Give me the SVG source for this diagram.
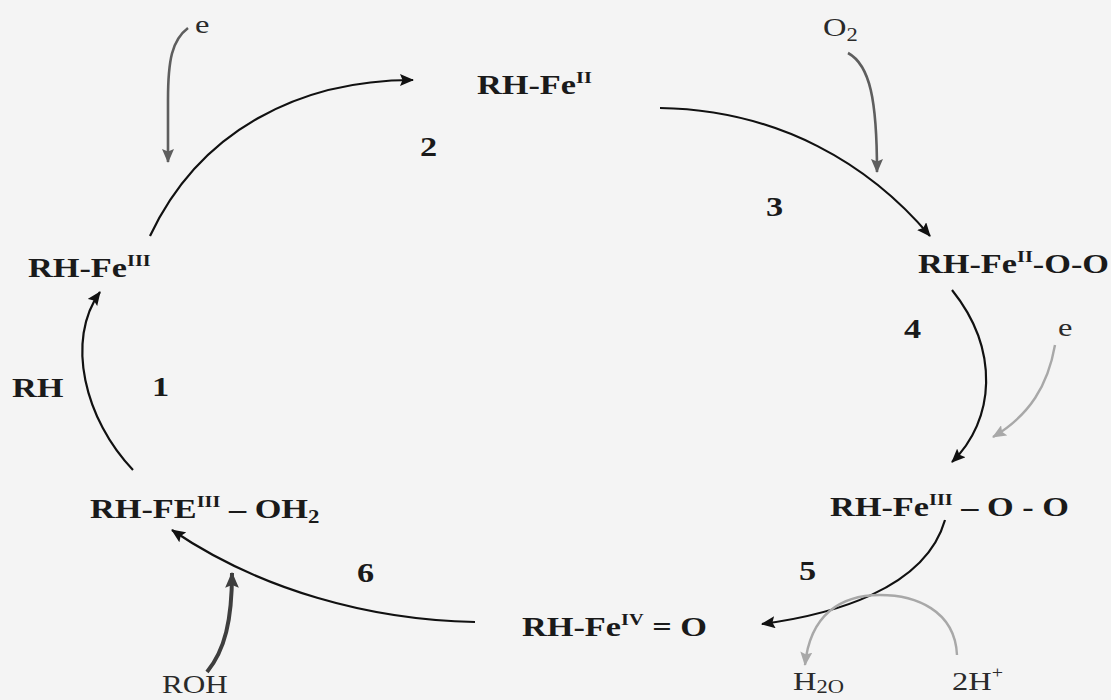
<svg xmlns="http://www.w3.org/2000/svg" width="1111" height="700" viewBox="0 0 1111 700">
<style>
.b{font-family:"Liberation Serif","Times New Roman",serif;font-weight:bold;font-size:27px;fill:#1a1a1a}
.r{font-family:"Liberation Serif","Times New Roman",serif;font-size:26px;fill:#2a2a2a}
.sup{font-size:16px}
.sub{font-size:18px}
.k{fill:none;stroke:#111;stroke-width:2.2}
.g{fill:none;stroke:#5e5e5e;stroke-width:2.6}
.lg{fill:none;stroke:#a8a8a8;stroke-width:2.4}
.dg{fill:none;stroke:#3e3e3e;stroke-width:4}
</style>
<defs>
<marker id="ak" viewBox="0 0 14 12" refX="13" refY="6" markerWidth="14" markerHeight="12" markerUnits="userSpaceOnUse" orient="auto"><path d="M0,0 L14,6 L0,12 L2.5,6 z" fill="#111"/></marker>
<marker id="ag" viewBox="0 0 14 12" refX="13" refY="6" markerWidth="14" markerHeight="12" markerUnits="userSpaceOnUse" orient="auto"><path d="M0,0 L14,6 L0,12 L2.5,6 z" fill="#5e5e5e"/></marker>
<marker id="alg" viewBox="0 0 14 12" refX="13" refY="6" markerWidth="14" markerHeight="12" markerUnits="userSpaceOnUse" orient="auto"><path d="M0,0 L14,6 L0,12 L2.5,6 z" fill="#a8a8a8"/></marker>
<marker id="adg" viewBox="0 0 14 12" refX="13" refY="6" markerWidth="16" markerHeight="14" markerUnits="userSpaceOnUse" orient="auto"><path d="M0,0 L14,6 L0,12 L2.5,6 z" fill="#3e3e3e"/></marker>
</defs>
<rect width="1111" height="700" fill="#f4f4f4"/>
<g id="connectors">
<path class="g" d="M188,28 C172,40 168,60 168,100 L168,162" marker-end="url(#ag)"/>
<path class="k" d="M150,236 C200,130 300,80 413,80" marker-end="url(#ak)"/>
<path class="g" d="M848,53 C870,65 877,100 877,172" marker-end="url(#ag)"/>
<path class="k" d="M660,108 C780,110 870,165 930,236" marker-end="url(#ak)"/>
<path class="k" d="M952,290 C1000,350 995,420 952,462" marker-end="url(#ak)"/>
<path class="lg" d="M1055,345 C1048,385 1030,415 993,437" marker-end="url(#alg)"/>
<path class="k" d="M945,520 C925,590 830,615 762,624" marker-end="url(#ak)"/>
<path class="lg" d="M957,655 C955,610 915,595 880,595 C840,595 810,615 805,665" marker-end="url(#alg)"/>
<path class="k" d="M475,622 C370,620 260,590 172,530" marker-end="url(#ak)"/>
<path class="dg" d="M207,672 C225,650 232,620 232,573" marker-end="url(#adg)"/>
<path class="k" d="M133,470 C85,420 65,340 100,292" stroke-width="1.6" marker-end="url(#ak)"/>
</g>
<g id="n-rhfe3"><text class="b" transform="translate(28,277) scale(1.27,1)">RH-Fe<tspan class="sup" dy="-11">III</tspan></text></g>
<g id="n-rhfe2"><text class="b" transform="translate(477,94) scale(1.27,1)">RH-Fe<tspan class="sup" dy="-11">II</tspan></text></g>
<g id="n-rhfe2oo"><text class="b" transform="translate(918,273) scale(1.27,1)">RH-Fe<tspan class="sup" dy="-11">II</tspan><tspan dy="11">-O-O</tspan></text></g>
<g id="n-rhfe3oo"><text class="b" transform="translate(830,516) scale(1.27,1)">RH-Fe<tspan class="sup" dy="-11">III</tspan><tspan dy="11"> – O - O</tspan></text></g>
<g id="n-rhfe4o"><text class="b" transform="translate(522,636) scale(1.27,1)">RH-Fe<tspan class="sup" dy="-11">IV</tspan><tspan dy="11"> = O</tspan></text></g>
<g id="n-rhfe3oh2"><text class="b" transform="translate(90,518) scale(1.27,1)">RH-FE<tspan class="sup" dy="-11">III</tspan><tspan dy="11"> – OH</tspan><tspan class="sub" dy="5">2</tspan></text></g>
<g id="l-rh"><text class="b" transform="translate(12,397) scale(1.27,1)">RH</text></g>
<g id="l-1"><text class="b" transform="translate(152,396) scale(1.27,1)">1</text></g>
<g id="l-2"><text class="b" transform="translate(420,156) scale(1.27,1)">2</text></g>
<g id="l-3"><text class="b" transform="translate(766,216) scale(1.27,1)">3</text></g>
<g id="l-4"><text class="b" transform="translate(904,338) scale(1.27,1)">4</text></g>
<g id="l-5"><text class="b" transform="translate(799,580) scale(1.27,1)">5</text></g>
<g id="l-6"><text class="b" transform="translate(357,582) scale(1.27,1)">6</text></g>
<g id="l-e1"><text class="r" transform="translate(195,33) scale(1.25,1)">e</text></g>
<g id="l-o2"><text class="r" transform="translate(823,36) scale(1.25,1)">O<tspan class="sub" dy="5">2</tspan></text></g>
<g id="l-e2"><text class="r" transform="translate(1058,336) scale(1.25,1)">e</text></g>
<g id="l-roh"><text class="r" transform="translate(162,693) scale(1.2,1)">ROH</text></g>
<g id="l-h2o"><text class="r" transform="translate(793,690) scale(1.25,1)">H<tspan class="sub" dy="3">2O</tspan></text></g>
<g id="l-2h"><text class="r" transform="translate(952,690) scale(1.25,1)">2H<tspan class="sup" dy="-12">+</tspan></text></g>
</svg>
